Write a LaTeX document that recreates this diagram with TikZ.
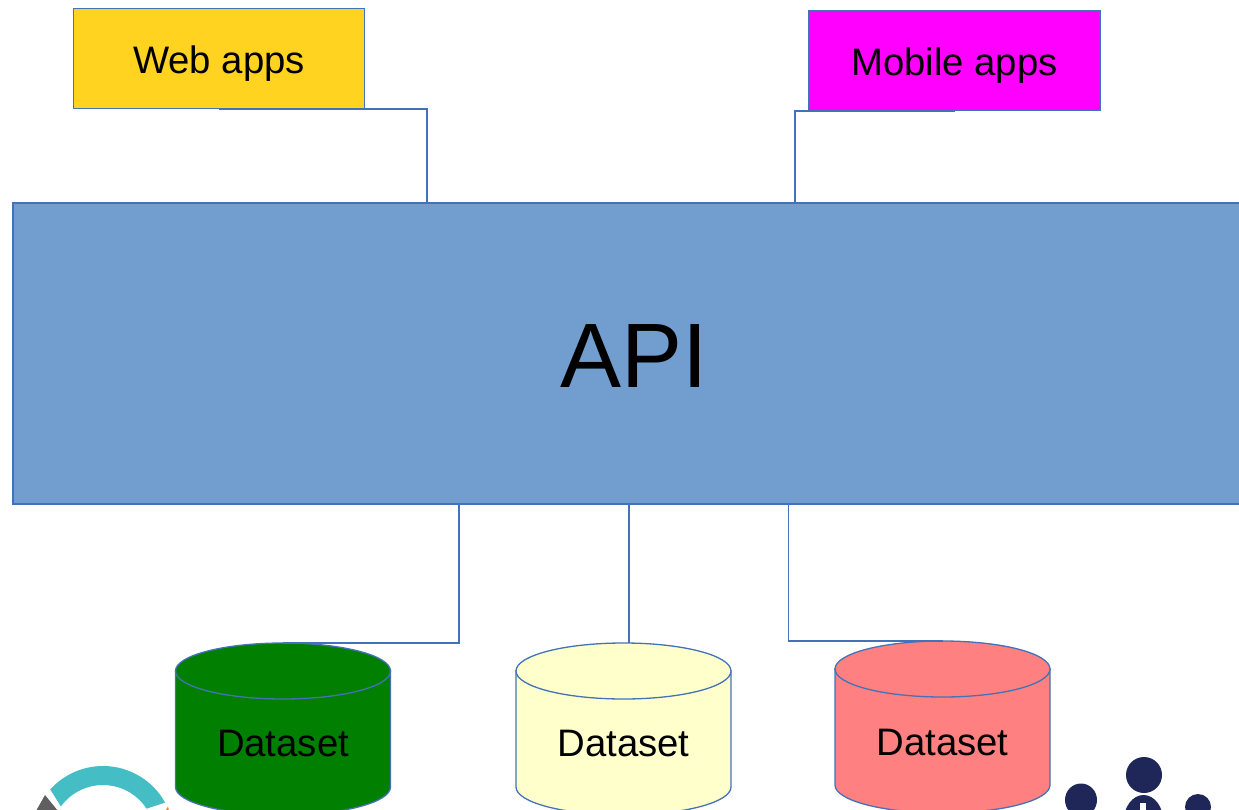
\documentclass[tikz,border=0pt]{standalone}
\usepackage{fontspec}
\setmainfont{Liberation Sans}
\definecolor{edgeblue}{HTML}{4472B8}
\definecolor{apiblue}{HTML}{719ECE}
\definecolor{webyellow}{HTML}{FFD320}
\definecolor{mobmagenta}{HTML}{FF00FF}
\definecolor{dbgreen}{HTML}{007F00}
\definecolor{dbyellow}{HTML}{FFFFCC}
\definecolor{dbred}{HTML}{FF8080}
\definecolor{logoteal}{HTML}{45BDC4}
\definecolor{logogray}{HTML}{5F5F5F}
\definecolor{logoorange}{HTML}{ED7D31}
\definecolor{peoplenavy}{HTML}{1F2759}
\tikzset{
  x=1pt,y=-1pt,
  edge/.style={draw=edgeblue,line width=1.3pt},
  appbox/.style={edge,rectangle,inner sep=0pt,minimum width=291pt,minimum height=100pt},
  applabel/.style={inner sep=0pt,font=\fontsize{38.3}{38}\selectfont},
  apibox/.style={edge,rectangle,fill=apiblue,inner sep=0pt,minimum width=1242pt,minimum height=301pt},
  dblabel/.style={inner sep=0pt,font=\fontsize{38.3}{38}\selectfont},
  wire/.style={edge}
}
\newcommand{\dbcylinder}[6]{%
  \coordinate (#1top) at (#2,#3);
  \path[edge,fill=#4] (#2-107.5,#3+28) -- (#2-107.5,#3+144)
     arc[start angle=180,end angle=0,x radius=107.5,y radius=28] -- (#2+107.5,#3+28) -- cycle;
  \path[edge,fill=#4] (#2,#3+28) ellipse[x radius=107.5,y radius=28];
  \node[dblabel] (#1) at (#2+#5,#6) {Dataset};
}
\begin{document}
\begin{tikzpicture}
\useasboundingbox (0,0) rectangle (1239,810);
\clip (0,0) rectangle (1239,810);
% logo fragment
\fill[logoteal] (103,837) ++(-29:71) arc[start angle=-29,end angle=-138,radius=71]
  -- ([shift={(-144:52)}]103,837) arc[start angle=-144,end angle=-33,radius=52] -- cycle;
\fill[logogray] (45,795) -- (36,811) -- (58,811) -- cycle;
\fill[logoorange] (165.5,811) -- (168,806.5) -- (169,811) -- cycle;
% people fragment
\fill[peoplenavy] (1144,775) circle[radius=18];
\fill[peoplenavy] (1081,800) ellipse[x radius=16,y radius=16.5];
\fill[peoplenavy] (1198,807) circle[radius=13];
\fill[peoplenavy] (1143.5,822) ellipse[x radius=20,y radius=27];
\fill[white] (1140,803) rectangle (1146,811);
% boxes
\node[appbox,fill=webyellow] (web) at (219,58.5) {};
\node[applabel] (weblabel) at (219,63.5) {Web apps};
\node[appbox,fill=mobmagenta] (mobile) at (954.5,60.5) {};
\node[applabel] (moblabel) at (954.5,65.5) {Mobile apps};
\node[apibox] (api) at (634,353.5) {};
\node[inner sep=0pt,font=\fontsize{91.5}{92}\selectfont] (apilabel) at (634,356) {API};
\coordinate (apiW) at (427,203);
\coordinate (apiM) at (795,203);
\coordinate (apiA) at (459,504);
\coordinate (apiB) at (629,504);
\coordinate (apiC) at (788.5,504);
\dbcylinder{dsA}{283}{643}{dbgreen}{0}{743.5}
\dbcylinder{dsB}{623.5}{643}{dbyellow}{0}{743.5}
\dbcylinder{dsC}{942.5}{641}{dbred}{0}{742.5}
% wires
\draw[wire] (web.south) -| (apiW);
\draw[wire] (mobile.south) -| (apiM);
\draw[wire] (apiW) -- (apiM);
\draw[wire] (apiA) |- (dsAtop);
\draw[wire] (apiB) -- (apiB |- dsBtop);
\draw[wire] (apiC) |- (dsCtop);
\end{tikzpicture}
\end{document}
